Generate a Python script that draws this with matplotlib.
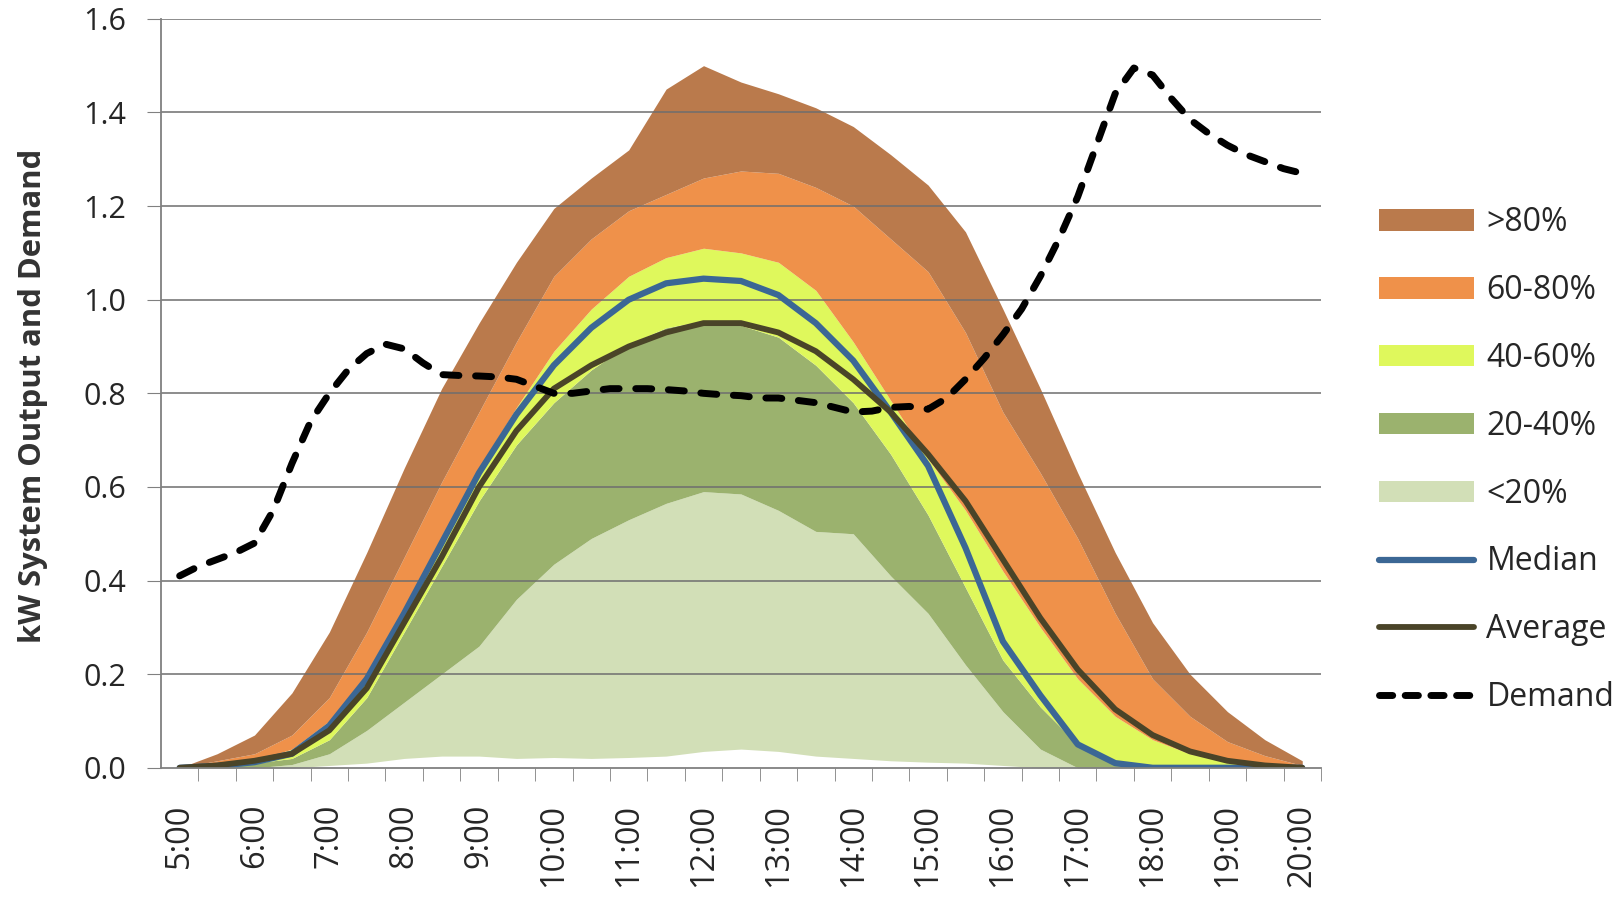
import numpy as np
import matplotlib
matplotlib.use("Agg")
from matplotlib import pyplot as plt
from matplotlib.patches import Patch
from matplotlib.lines import Line2D

# half-hour steps, 5:00 .. 20:00
hours = [5.0, 5.5, 6.0, 6.5, 7.0, 7.5, 8.0, 8.5, 9.0, 9.5, 10.0, 10.5, 11.0, 11.5,
         12.0, 12.5, 13.0, 13.5, 14.0, 14.5, 15.0, 15.5, 16.0, 16.5, 17.0, 17.5,
         18.0, 18.5, 19.0, 19.5, 20.0]

p_min = [0, 0, 0, 0, 0.005, 0.01, 0.02, 0.025, 0.025, 0.02, 0.022, 0.02, 0.022, 0.025,
         0.035, 0.04, 0.035, 0.025, 0.02, 0.015, 0.012, 0.01, 0.005, 0, 0, 0,
         0, 0, 0, 0, 0]
p20 = [0.0, 0.0, 0.0, 0.007, 0.03, 0.08, 0.14, 0.20, 0.26, 0.36, 0.435, 0.49, 0.53, 0.565,
       0.59, 0.585, 0.55, 0.505, 0.50, 0.41, 0.33, 0.22, 0.12, 0.04, 0.0, 0,
       0, 0, 0, 0, 0]
p40 = [0.0, 0.003, 0.01, 0.02, 0.06, 0.15, 0.29, 0.43, 0.57, 0.69, 0.78, 0.85, 0.905, 0.94,
       0.955, 0.945, 0.92, 0.86, 0.78, 0.67, 0.54, 0.385, 0.23, 0.13, 0.05, 0.015,
       0.0, 0, 0, 0, 0]
p60 = [0.0, 0.005, 0.015, 0.04, 0.10, 0.20, 0.34, 0.49, 0.64, 0.77, 0.89, 0.98, 1.05, 1.09,
       1.11, 1.10, 1.08, 1.02, 0.91, 0.785, 0.66, 0.55, 0.42, 0.30, 0.19, 0.11,
       0.06, 0.03, 0.012, 0.004, 0.0]
p80 = [0.0, 0.015, 0.03, 0.07, 0.15, 0.29, 0.45, 0.61, 0.76, 0.91, 1.05, 1.13, 1.19, 1.225,
       1.26, 1.275, 1.27, 1.24, 1.20, 1.13, 1.06, 0.93, 0.76, 0.63, 0.49, 0.33,
       0.19, 0.11, 0.056, 0.026, 0.005]
p_max = [0.0, 0.03, 0.07, 0.16, 0.29, 0.46, 0.64, 0.81, 0.95, 1.08, 1.195, 1.26, 1.32, 1.45,
         1.50, 1.465, 1.44, 1.41, 1.37, 1.31, 1.245, 1.145, 0.98, 0.81, 0.63, 0.46,
         0.31, 0.20, 0.12, 0.06, 0.015]

median = [0.0, 0.004, 0.012, 0.03, 0.09, 0.19, 0.33, 0.48, 0.63, 0.755, 0.86, 0.94, 1.0, 1.035,
          1.045, 1.04, 1.01, 0.95, 0.87, 0.76, 0.645, 0.47, 0.27, 0.155, 0.05, 0.01,
          0.0, 0, 0, 0, 0]
average = [0.0, 0.005, 0.015, 0.03, 0.08, 0.17, 0.31, 0.45, 0.60, 0.72, 0.81, 0.86, 0.90, 0.93,
           0.95, 0.95, 0.93, 0.89, 0.83, 0.76, 0.67, 0.57, 0.445, 0.32, 0.21, 0.125,
           0.07, 0.035, 0.015, 0.005, 0.0]

# demand read at quarter hours
demand_hours = [5 + i * 0.25 for i in range(61)]
demand = [0.41, 0.43, 0.445, 0.46, 0.48, 0.55, 0.65, 0.74, 0.80, 0.85, 0.885, 0.905,
          0.895, 0.865, 0.84, 0.838, 0.837, 0.835, 0.83, 0.815, 0.80, 0.80, 0.805, 0.81,
          0.81, 0.81, 0.808, 0.805, 0.80, 0.797, 0.795, 0.79, 0.79, 0.785, 0.78, 0.77,
          0.76, 0.762, 0.77, 0.772, 0.766, 0.79, 0.83, 0.875, 0.925, 0.98, 1.05, 1.13,
          1.22, 1.33, 1.44, 1.495, 1.48, 1.43, 1.385, 1.355, 1.33, 1.31, 1.295, 1.28, 1.27]

tick_labels = ["%d:00" % h for h in range(5, 21)]
band_labels = [">80%", "60-80%", "40-60%", "20-40%", "<20%"]
band_colors = ["#BA7A4C", "#EF914A", "#DFF85C", "#9BB26E", "#D2DFB7"]

plt.rcParams['font.family'] = ['Open Sans', 'DejaVu Sans']
TXT = "#262626"

fig = plt.figure(figsize=(16.24, 8.98), dpi=100)
ax = fig.add_axes([0.0991, 0.145, 0.7143, 0.834])

x = np.array(hours)
ax.fill_between(x, p_min, p20, color=band_colors[4], lw=0, zorder=1)
ax.fill_between(x, p20, p40, color=band_colors[3], lw=0, zorder=1)
ax.fill_between(x, p40, p60, color=band_colors[2], lw=0, zorder=1)
ax.fill_between(x, p60, p80, color=band_colors[1], lw=0, zorder=1)
ax.fill_between(x, p80, p_max, color=band_colors[0], lw=0, zorder=1)

# gridlines sit over the bands
for yv in np.arange(0.2, 1.61, 0.2):
    ax.axhline(yv, color="#6e6e6e", lw=1.1, zorder=2)

ax.plot(x, median, color="#3B6795", lw=4.5, zorder=3, solid_capstyle="round")
ax.plot(x, average, color="#4A4428", lw=4.2, zorder=4, solid_capstyle="round")
ax.plot(demand_hours, demand, color="black", lw=5, zorder=5,
        dashes=(2.3, 2.4), dash_capstyle="round")

ax.set_xlim(4.75, 20.25)
ax.set_ylim(0, 1.6)
ax.set_yticks(np.arange(0, 1.61, 0.2))
ax.set_yticklabels(["%.1f" % v for v in np.arange(0, 1.61, 0.2)], fontsize=22, color=TXT)
ax.set_xticks(range(5, 21))
ax.set_xticklabels(tick_labels, rotation=90, fontsize=23.5, color=TXT)
ax.set_xticks(np.arange(5.25, 20.3, 0.5), minor=True)
ax.tick_params(axis="x", which="major", length=0, pad=26)
ax.tick_params(axis="x", which="minor", length=9, color="#808080", direction="out")
ax.tick_params(axis="y", length=10, color="#808080", direction="out", pad=15)

for s in ["top", "right"]:
    ax.spines[s].set_visible(False)
for s in ["left", "bottom"]:
    ax.spines[s].set_color("#808080")
    ax.spines[s].set_linewidth(1.3)
    ax.spines[s].set_zorder(6)

fig.text(33 / 1624, 0.559, "kW System Output and Demand", rotation=90,
         ha="center", va="center", fontsize=22.3, fontweight="bold", color="#333333")

handles = [Patch(facecolor=c, edgecolor="none") for c in band_colors]
handles += [Line2D([], [], color="#3B6795", lw=4.5, solid_capstyle="round"),
            Line2D([], [], color="#4A4428", lw=4.2, solid_capstyle="round"),
            Line2D([], [], color="black", lw=5, dashes=(1.9, 1.8), dash_capstyle="round")]
labels = band_labels + ["Median", "Average", "Demand"]
fig.legend(handles, labels, loc="center left", bbox_to_anchor=(0.849, 0.4875),
           frameon=False, fontsize=23, handlelength=2.98, handleheight=0.65,
           labelspacing=1.09, handletextpad=0.39, borderpad=0, borderaxespad=0,
           labelcolor=TXT)

fig.savefig("out.png", dpi=100)
